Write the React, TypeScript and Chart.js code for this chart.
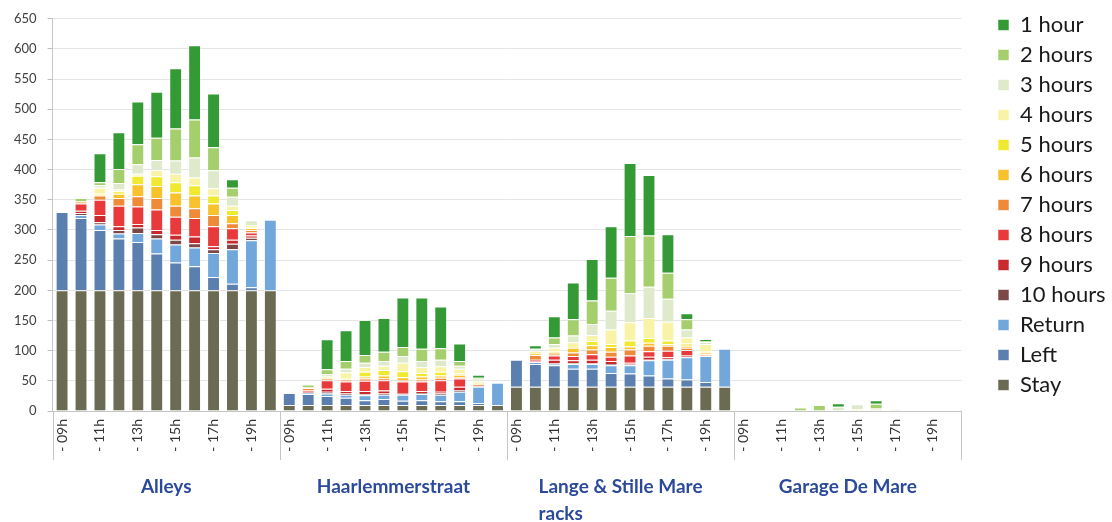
import React, { useEffect, useRef } from "react";
import { Chart, registerables } from "chart.js";

Chart.register(...registerables);

const groups = ["Alleys", "Haarlemmerstraat", "Lange & Stille Mare racks", "Garage De Mare"];
const hours = ["09h", "10h", "11h", "12h", "13h", "14h", "15h", "16h", "17h", "18h", "19h", "20h"];
const yTicks = [0, 50, 100, 150, 200, 250, 300, 350, 400, 450, 500, 550, 600, 650];

// each series: Alleys (12) | Haarlemmerstraat (12) | Lange & Stille Mare racks (12) | Garage De Mare (12)
const stay = [
  200, 200, 200, 200, 200, 200, 200, 200, 200, 200, 200, 200,
  10, 10, 10, 10, 10, 10, 10, 10, 10, 10, 10, 10,
  40, 40, 40, 40, 40, 40, 40, 40, 40, 40, 40, 40,
  0, 0, 0, 0, 0, 0, 0, 0, 0, 0, 0, 0,
];
const left = [
  130, 120, 100, 86, 80, 61, 46, 40, 22, 11, 5, 0,
  20, 18, 15, 12, 8, 10, 7, 8, 6, 6, 3, 0,
  45, 38, 36, 30, 30, 23, 22, 19, 14, 12, 8, 0,
  0, 0, 0, 0, 0, 0, 0, 0, 0, 0, 0, 0,
];
const returned = [
  0, 5, 9, 8, 15, 25, 30, 31, 40, 57, 78, 117,
  0, 2, 4, 5, 8, 7, 10, 10, 11, 16, 27, 37,
  0, 3, 2, 8, 8, 13, 14, 25, 31, 37, 43, 63,
  0, 0, 0, 0, 0, 0, 0, 0, 0, 0, 0, 0,
];
const h10 = [
  0, 3, 4, 6, 9, 7, 8, 7, 6, 9, 4, 0,
  0, 0, 3, 2, 2, 2, 1, 2, 2, 3, 0, 0,
  0, 0, 1, 1, 1, 2, 1, 1, 1, 1, 0, 0,
  0, 0, 0, 0, 0, 0, 0, 0, 0, 0, 0, 0,
];
const h9 = [
  0, 4, 12, 6, 6, 7, 8, 11, 5, 7, 4, 0,
  0, 1, 5, 4, 5, 5, 2, 3, 3, 5, 0, 0,
  0, 1, 6, 5, 6, 5, 3, 5, 3, 3, 0, 0,
  0, 0, 0, 0, 0, 0, 0, 0, 0, 0, 0, 0,
];
const h8 = [
  0, 12, 25, 34, 29, 34, 30, 31, 33, 19, 5, 0,
  0, 3, 14, 16, 17, 17, 19, 16, 19, 14, 1, 0,
  0, 3, 7, 7, 9, 7, 12, 9, 11, 8, 1, 0,
  0, 0, 0, 0, 0, 0, 0, 0, 0, 0, 0, 0,
];
const h7 = [
  0, 3, 7, 13, 17, 19, 18, 16, 19, 8, 4, 0,
  0, 4, 2, 3, 4, 3, 2, 3, 4, 2, 3, 0,
  0, 8, 3, 6, 8, 8, 10, 9, 8, 4, 2, 0,
  0, 0, 0, 0, 0, 0, 0, 0, 0, 0, 0, 0,
];
const h6 = [
  0, 0, 2, 7, 20, 20, 22, 21, 19, 14, 3, 0,
  0, 0, 1, 1, 3, 5, 5, 5, 4, 4, 2, 0,
  0, 2, 3, 8, 7, 8, 5, 5, 3, 3, 3, 0,
  0, 0, 0, 0, 0, 0, 0, 0, 0, 0, 0, 0,
];
const h5 = [
  0, 0, 2, 4, 14, 16, 17, 17, 13, 8, 1, 0,
  0, 0, 0, 1, 8, 9, 10, 6, 6, 2, 1, 0,
  0, 0, 1, 1, 7, 5, 10, 8, 6, 4, 2, 0,
  0, 0, 0, 0, 0, 0, 0, 0, 0, 0, 0, 0,
];
const h4 = [
  0, 0, 9, 3, 3, 11, 14, 13, 12, 7, 4, 0,
  0, 0, 3, 10, 8, 7, 14, 10, 9, 8, 2, 0,
  0, 5, 6, 8, 10, 24, 30, 33, 31, 10, 12, 0,
  0, 0, 0, 0, 0, 0, 3, 0, 0, 0, 0, 0,
];
const h3 = [
  0, 1, 4, 11, 16, 16, 22, 33, 30, 15, 8, 0,
  0, 1, 4, 6, 7, 8, 11, 10, 11, 5, 3, 0,
  0, 3, 6, 11, 18, 31, 48, 52, 38, 13, 3, 0,
  0, 0, 0, 0, 0, 7, 8, 4, 3, 0, 0, 0,
];
const h2 = [
  0, 5, 5, 23, 33, 37, 53, 63, 38, 15, 0, 0,
  0, 5, 8, 13, 13, 15, 15, 20, 19, 8, 3, 0,
  0, 0, 11, 27, 39, 55, 95, 85, 43, 17, 2, 0,
  0, 0, 0, 6, 10, 0, 0, 8, 0, 0, 0, 0,
];
const h1 = [
  0, 0, 48, 61, 71, 76, 100, 123, 89, 14, 0, 0,
  0, 0, 50, 51, 58, 56, 82, 85, 69, 29, 5, 0,
  0, 6, 35, 61, 69, 85, 121, 100, 64, 10, 3, 0,
  0, 0, 0, 0, 0, 6, 0, 6, 0, 0, 0, 0,
];

const seriesNames = ["Stay", "Left", "Return", "10 hours", "9 hours", "8 hours", "7 hours", "6 hours", "5 hours", "4 hours", "3 hours", "2 hours", "1 hour"];
const seriesData = [stay, left, returned, h10, h9, h8, h7, h6, h5, h4, h3, h2, h1];
const seriesColors = [
  "#6b6a52", "#5b7fae", "#72a7dc", "#7c4747", "#c9282d", "#e8393b",
  "#ee8a38", "#f8c22d", "#f1e830", "#f8f3a6", "#dfe9cb", "#a5cf6c", "#339a36",
];

const FONT = "Lato, 'Open Sans', sans-serif";

const categoryLabels: string[] = [];
groups.forEach(() => hours.forEach((h) => categoryLabels.push("- " + h)));

const groupPlugin = {
  id: "groupDecor",
  afterLayout(chart: any) {
    const l = chart.legend;
    if (!l) return;
    const dx = 998 - (l.left + 8);
    l.left += dx;
    l.right += dx;
    const dy = -62;
    l.top += dy;
    l.bottom += dy;
  },
  afterDraw(chart: any) {
    const xs = chart.scales.x;
    const ctx = chart.ctx as CanvasRenderingContext2D;
    const n = groups.length;
    const gw = (xs.right - xs.left) / n;
    ctx.save();
    ctx.strokeStyle = "#c6c6c6";
    ctx.lineWidth = 1;
    for (let i = 0; i <= n; i++) {
      const x = Math.round(xs.left + gw * i) + 0.5;
      ctx.beginPath();
      ctx.moveTo(x, xs.top);
      ctx.lineTo(x, xs.top + 49);
      ctx.stroke();
    }
    ctx.font = "bold 19px " + FONT;
    ctx.fillStyle = "#2b4a9a";
    ctx.textBaseline = "middle";
    ctx.textAlign = "left";
    groups.forEach((g, i) => {
      const cx = xs.left + gw * (i + 0.5);
      const words = g.split(" ");
      const lines: string[] = [];
      let cur = "";
      words.forEach((w) => {
        const t = cur ? cur + " " + w : w;
        if (ctx.measureText(t).width > gw - 20 && cur) {
          lines.push(cur);
          cur = w;
        } else cur = t;
      });
      lines.push(cur);
      const w0 = ctx.measureText(lines[0]).width;
      lines.forEach((ln, j) => {
        ctx.fillText(ln, cx - w0 / 2, xs.top + 76 + j * 27);
      });
    });
    ctx.restore();
  },
};

export default function App() {
  const ref = useRef<HTMLCanvasElement>(null);
  useEffect(() => {
    if (!ref.current) return;
    const chart = new Chart(ref.current, {
      type: "bar",
      data: {
        labels: categoryLabels,
        datasets: seriesNames.map((name, i) => ({
          label: name,
          data: seriesData[i],
          backgroundColor: seriesColors[i],
          borderColor: "rgba(255,255,255,0.55)",
          borderWidth: 1,
          barPercentage: 0.68,
          categoryPercentage: 1,
        })),
      },
      options: {
        responsive: false,
        animation: false,
        layout: { padding: { top: 12, left: 3, right: 25, bottom: 0 } },
        plugins: {
          tooltip: { enabled: false },
          legend: {
            position: "right",
            reverse: true,
            labels: {
              boxWidth: 11,
              boxHeight: 11,
              padding: 8,
              color: "#1a1a1a",
              font: { size: 22, family: FONT },
            },
          },
        },
        scales: {
          x: {
            stacked: true,
            grid: { display: false, drawTicks: false },
            border: { display: true, color: "#c6c6c6" },
            ticks: {
              autoSkip: false,
              minRotation: 90,
              maxRotation: 90,
              padding: 8,
              color: "#333333",
              font: { size: 14, family: FONT },
              callback: (_v: any, i: number) => (i % 2 === 0 ? categoryLabels[i] : ""),
            },
            afterFit: (s: any) => {
              s.height = 111;
            },
          },
          y: {
            stacked: true,
            min: 0,
            max: 650,
            afterBuildTicks: (s: any) => {
              s.ticks = yTicks.map((v) => ({ value: v }));
            },
            grid: { color: "#e4e4e4", tickLength: 5, tickColor: "#bdbdbd" },
            border: { display: true, color: "#c6c6c6" },
            ticks: {
              padding: 11,
              color: "#404040",
              font: { size: 13, family: FONT },
            },
          },
        },
      },
      plugins: [groupPlugin],
    });
    return () => chart.destroy();
  }, []);
  return (
    <div style={{ position: "absolute", left: 0, top: 0, width: 1112, height: 522 }}>
      <canvas ref={ref} width={1112} height={522} />
    </div>
  );
}
